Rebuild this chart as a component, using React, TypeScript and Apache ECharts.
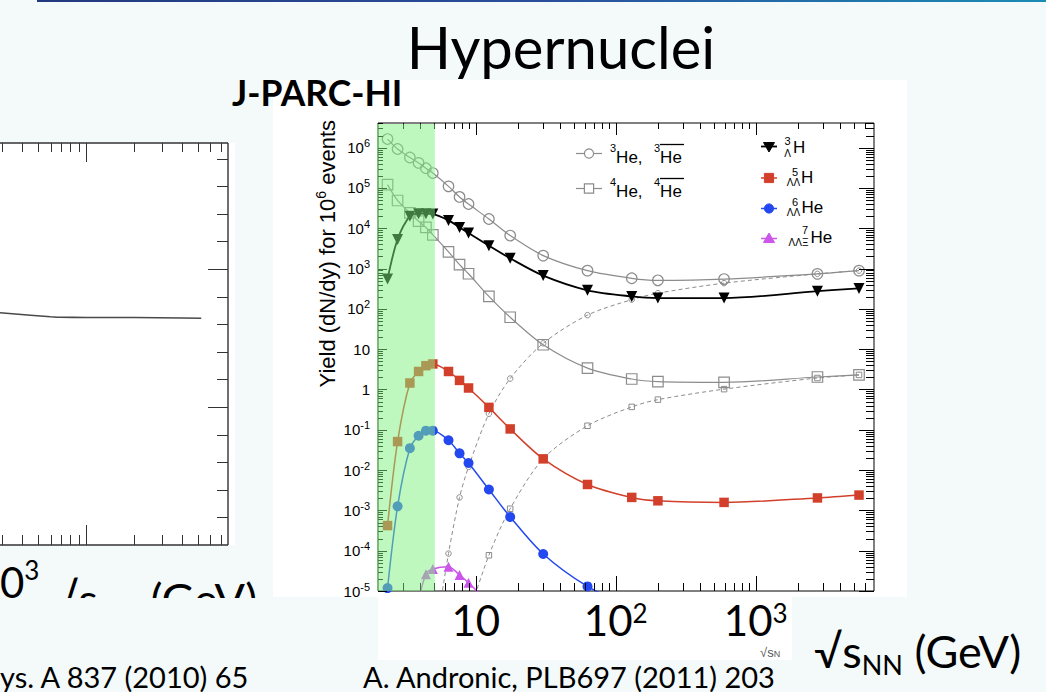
import React, { useEffect, useRef } from "react";
import * as echarts from "echarts";

// ---------- data ----------
const energies = [2.34, 2.76, 3.38, 3.9, 4.4, 4.93, 6.38, 7.65, 8.87, 12.4, 17.6, 30.3, 62.8, 130, 200, 594, 2760, 5470];
const he3 = [1.64e6, 9.3e5, 5.7e5, 4.2e5, 3.1e5, 2.35e5, 1.1e5, 6.0e4, 4.0e4, 1.7e4, 6.6e3, 2.1e3, 890, 575, 512, 550, 740, 890];
const he4 = [1.21e5, 4.9e4, 2.4e4, 1.5e4, 1.05e4, 6.9e3, 2.6e3, 1.25e3, 745, 204, 62, 12.9, 3.4, 1.82, 1.56, 1.5, 2.04, 2.3];
const antiHe3 = [null, null, null, null, null, 3e-7, 8.5e-5, 2.1e-3, 0.012, 0.25, 1.87, 14, 70, 170, 245, 435, 740, 890];
const antiHe4 = [null, null, null, null, null, null, null, null, 2.5e-6, 7.7e-5, 1.1e-3, 0.019, 0.126, 0.37, 0.56, 1.02, 1.93, 2.3];
const hypH3 = [552, 5.3e3, 2.0e4, 2.3e4, 2.3e4, 2.25e4, 1.57e4, 1.05e4, 7.6e3, 3.7e3, 1.8e3, 670, 290, 204, 186, 186, 275, 323];
const llH5 = [4.2e-4, 0.051, 1.45, 2.8, 3.9, 4.3, 2.8, 1.68, 1.09, 0.36, 0.105, 0.019, 4.4e-3, 2.1e-3, 1.73e-3, 1.58e-3, 2.04e-3, 2.4e-3];
const llHe6 = [1.18e-5, 1.26e-3, 0.035, 0.071, 0.095, 0.095, 0.055, 0.026, 0.015, 3.3e-3, 6.9e-4, 8.3e-5, 1.3e-5, 4e-6, null, null, null, null];
const llXiHe7 = [null, null, null, 5.7e-6, 2.6e-5, 3.5e-5, 4.0e-5, 2.5e-5, 1.6e-5, 5e-6, null, null, null, null, null, null, null, null];

const xRange = [2, 7000];
const yRange = [1e-5, 4.1e6];
const jparcBand = [2, 5.1];
const xTickValues = [10, 100, 1000];
const xTickLabels = ["10", "10{sup|2}", "10{sup|3}"];
const yTickValues = [1e-5, 1e-4, 1e-3, 1e-2, 1e-1, 1, 10, 1e2, 1e3, 1e4, 1e5, 1e6];

// left (cropped) figure
const leftX = [29, 45, 60, 69, 100, 200, 400, 525];
const leftY = [1.683, 1.665, 1.654, 1.65, 1.649, 1.648, 1.645, 1.643];
const leftXRange = [29, 772];
const leftYRange = [0, 2.913];

const ROOT_FONT = '"Liberation Sans", Arial, Helvetica, sans-serif';
const SLIDE_FONT = 'Lato, "Open Sans", sans-serif';
const BG = "#f4fafa";

const pairs = (xs: number[], ys: (number | null)[]) =>
  xs.map((x, i) => [x, ys[i]]).filter((p) => p[1] != null);

function expLabel(v: number) {
  const e = Math.log10(v);
  const r = Math.round(e);
  if (Math.abs(e - r) > 1e-4) return "";
  if (r === 0) return "1";
  if (r === 1) return "10";
  return "10{sup|" + r + "}";
}

function txt(x: number, y: number, text: string, o: any = {}) {
  return {
    type: "text",
    x,
    y,
    z: o.z ?? 20,
    rotation: o.rotation ?? 0,
    silent: true,
    style: {
      text,
      fontSize: o.fontSize ?? 16,
      fontFamily: o.fontFamily ?? ROOT_FONT,
      fontWeight: o.fontWeight ?? "normal",
      fill: o.fill ?? "#000",
      align: o.align ?? "left",
      verticalAlign: o.verticalAlign ?? "middle",
      lineHeight: o.lineHeight,
      rich: o.rich,
    },
  };
}

const supRoot = { sup: { fontSize: 11, lineHeight: 12, verticalAlign: "top", fontFamily: ROOT_FONT } };

function legendMarker(kind: string, cx: number, cy: number, color: string, filled: boolean, l1: number, l2: number, lw: number) {
  const els: any[] = [
    { type: "line", z: 20, silent: true, shape: { x1: l1, y1: cy, x2: l2, y2: cy }, style: { stroke: color, lineWidth: lw } },
  ];
  const style = filled ? { fill: color, stroke: color, lineWidth: 1 } : { fill: "#fff", stroke: color, lineWidth: 1.2 };
  if (kind === "circle") els.push({ type: "circle", z: 21, silent: true, shape: { cx, cy, r: 4.6 }, style });
  if (kind === "rect") els.push({ type: "rect", z: 21, silent: true, shape: { x: cx - 4.6, y: cy - 4.6, width: 9.2, height: 9.2 }, style });
  if (kind === "tdown") els.push({ type: "polygon", z: 21, silent: true, shape: { points: [[cx - 5.5, cy - 4], [cx + 5.5, cy - 4], [cx, cy + 5.5]] }, style });
  if (kind === "tup") els.push({ type: "polygon", z: 21, silent: true, shape: { points: [[cx - 5.5, cy + 4], [cx + 5.5, cy + 4], [cx, cy - 5.5]] }, style });
  return els;
}

export default function App() {
  const ref = useRef<HTMLDivElement>(null);

  useEffect(() => {
    if (!ref.current) return;
    const chart = echarts.init(ref.current, null, { renderer: "svg" });

    const lineSeries = (name: string, ys: (number | null)[], color: string, symbol: string, size: number, filled: boolean, opts: any = {}) => ({
      name,
      type: "line",
      xAxisIndex: 0,
      yAxisIndex: 0,
      data: pairs(energies, ys),
      smooth: 0.3,
      symbol,
      symbolSize: size,
      symbolRotate: opts.rotate ?? 0,
      showSymbol: true,
      showAllSymbol: true,
      clip: true,
      z: opts.z ?? 2,
      lineStyle: { color, width: opts.width ?? 1.3, type: opts.dash ? [4, 3] : "solid" },
      itemStyle: filled
        ? { color, borderColor: color, borderWidth: 0 }
        : { color: "rgba(255,255,255,0)", borderColor: color, borderWidth: opts.bw ?? 1.2 },
      emphasis: { disabled: true },
    });

    const mainTicks = {
      type: "custom",
      xAxisIndex: 0,
      yAxisIndex: 0,
      data: [[10, 1]],
      clip: false,
      silent: true,
      z: 4,
      renderItem: (params: any, api: any) => {
        const ch: any[] = [];
        const ln = (x1: number, y1: number, x2: number, y2: number) =>
          ch.push({ type: "line", shape: { x1, y1, x2, y2 }, style: { stroke: "#000", lineWidth: 1 } });
        const [xL, yB] = api.coord([xRange[0], yRange[0]]);
        const [xR, yT] = api.coord([xRange[1], yRange[1]]);
        for (let e = -6; e <= 7; e++) {
          for (let m = 1; m <= 9; m++) {
            const v = m * Math.pow(10, e);
            if (v < yRange[0] * 0.999 || v > yRange[1]) continue;
            const y = Math.round(api.coord([xRange[0], v])[1]) + 0.5;
            const major = m === 1;
            ln(xL, y, xL + (major ? 9 : 5), y);
            ln(xR, y, xR - (major ? 15 : 8), y);
          }
        }
        for (let e = 0; e <= 4; e++) {
          for (let m = 1; m <= 9; m++) {
            const v = m * Math.pow(10, e);
            if (v <= xRange[0] * 1.001 || v >= xRange[1]) continue;
            const x = Math.round(api.coord([v, yRange[0]])[0]) + 0.5;
            const major = m === 1;
            ln(x, yB, x, yB - (major ? 15 : 8));
            ln(x, yT, x, yT + (major ? 12 : 6));
          }
        }
        return { type: "group", children: ch };
      },
    };

    const bandSeries = {
      type: "custom",
      xAxisIndex: 0,
      yAxisIndex: 0,
      data: [[jparcBand[0], 1]],
      clip: false,
      silent: true,
      z: 10,
      renderItem: (params: any, api: any) => {
        const p0 = api.coord([jparcBand[0], yRange[1]]);
        const p1 = api.coord([jparcBand[1], yRange[0]]);
        return {
          type: "rect",
          shape: { x: p0[0] - 1, y: p0[1] + 1, width: p1[0] - p0[0] + 1, height: p1[1] - p0[1] - 1 },
          style: { fill: "rgba(128,242,128,0.5)" },
        };
      },
    };

    const leftFrame = {
      type: "custom",
      xAxisIndex: 1,
      yAxisIndex: 1,
      data: [[100, 1]],
      clip: false,
      silent: true,
      z: 4,
      renderItem: (params: any, api: any) => {
        const ch: any[] = [];
        const ln = (x1: number, y1: number, x2: number, y2: number, w = 1) =>
          ch.push({ type: "line", shape: { x1, y1, x2, y2 }, style: { stroke: "#333", lineWidth: w } });
        const [xL, yB] = api.coord([leftXRange[0], leftYRange[0]]);
        const [xR, yT] = api.coord([leftXRange[1], leftYRange[1]]);
        ln(xL, yT, xR, yT, 1.4);
        ln(xL, yB, xR, yB, 1.4);
        ln(xR, yT, xR, yB, 1.4);
        for (let e = 1; e <= 3; e++) {
          for (let m = 1; m <= 9; m++) {
            const v = m * Math.pow(10, e);
            if (v < leftXRange[0] || v >= leftXRange[1]) continue;
            const x = Math.round(api.coord([v, 1])[0]) + 0.5;
            const major = m === 1;
            ln(x, yT, x, yT + (major ? 19 : 9));
            ln(x, yB, x, yB - (major ? 20 : 10));
          }
        }
        for (let k = 1; k <= 14; k++) {
          const v = k * 0.2;
          const y = Math.round(api.coord([100, v])[1]) + 0.5;
          const major = k % 5 === 0;
          ln(xR, y, xR - (major ? 20 : 11), y);
        }
        return { type: "group", children: ch };
      },
    };

    const bigLabelRich = {
      sup: { fontSize: 26, lineHeight: 27, verticalAlign: "top", fontFamily: SLIDE_FONT, fill: "#000", color: "#000" },
      sub: { fontSize: 27, lineHeight: 27, verticalAlign: "bottom", fontFamily: SLIDE_FONT, fill: "#000", color: "#000" },
    };

    const graphics: any[] = [
      // slide backgrounds
      { type: "rect", z: -10, silent: true, shape: { x: 273, y: 80, width: 634, height: 517 }, style: { fill: "#fff" } },
      { type: "rect", z: -10, silent: true, shape: { x: 378, y: 597, width: 414, height: 63 }, style: { fill: "#fff" } },
      { type: "rect", z: -10, silent: true, shape: { x: 0, y: 143, width: 235, height: 402 }, style: { fill: "#fff" } },
      // top bar
      {
        type: "rect", z: 30, silent: true, shape: { x: 37, y: 0, width: 1009, height: 2 },
        style: { fill: new echarts.graphic.LinearGradient(0, 0, 1, 0, [{ offset: 0, color: "#22397f" }, { offset: 0.5, color: "#2a4e9c" }, { offset: 1, color: "#1a8cb4" }]) },
      },
      // title
      txt(561, 46, "Hypernuclei", { fontSize: 58, fontFamily: SLIDE_FONT, align: "center" }),
      txt(232, 92, "J-PARC-HI", { fontSize: 35.5, fontFamily: SLIDE_FONT, fontWeight: "bold" }),
      // y axis title
      txt(327, 120, "Yield (dN/dy) for 10{sup|6} events", {
        fontSize: 22, rotation: Math.PI / 2, align: "right", lineHeight: 26,
        rich: { sup: { fontSize: 14, lineHeight: 14, verticalAlign: "top", fontFamily: ROOT_FONT } },
      }),
      // legend left column
      ...legendMarker("circle", 589, 153.5, "#8c8c8c", false, 576, 602, 1.2),
      txt(610, 157, "{sup|3}He,", { fontSize: 17, lineHeight: 30, rich: supRoot }),
      txt(654, 157, "{sup|3}He", { fontSize: 17, lineHeight: 30, rich: supRoot }),
      { type: "line", z: 20, silent: true, shape: { x1: 660, y1: 144.5, x2: 684, y2: 144.5 }, style: { stroke: "#000", lineWidth: 1.3 } },
      ...legendMarker("rect", 589, 188.5, "#8c8c8c", false, 576, 602, 1.2),
      txt(610, 191, "{sup|4}He,", { fontSize: 17, lineHeight: 30, rich: supRoot }),
      txt(654, 191, "{sup|4}He", { fontSize: 17, lineHeight: 30, rich: supRoot }),
      { type: "line", z: 20, silent: true, shape: { x1: 660, y1: 178.5, x2: 684, y2: 178.5 }, style: { stroke: "#000", lineWidth: 1.3 } },
      // legend right column
      ...legendMarker("tdown", 769, 146.5, "#000", true, 761, 777, 1.8),
      txt(787.5, 140.5, "3", { fontSize: 11, align: "center" }),
      txt(787.5, 153.5, "Λ", { fontSize: 10, align: "center" }),
      txt(793, 147, "H", { fontSize: 17 }),
      ...legendMarker("rect", 769, 178, "#d2402b", true, 761, 777, 1.5),
      txt(795, 171.5, "5", { fontSize: 11, align: "center" }),
      txt(793.5, 182, "ΛΛ", { fontSize: 10, align: "center" }),
      txt(801, 177, "H", { fontSize: 17 }),
      ...legendMarker("circle", 769, 208.5, "#2448f0", true, 761, 777, 1.5),
      txt(795, 201.5, "6", { fontSize: 11, align: "center" }),
      txt(793.5, 212, "ΛΛ", { fontSize: 10, align: "center" }),
      txt(801.5, 207.5, "He", { fontSize: 17 }),
      ...legendMarker("tup", 769, 238.5, "#cc55ea", true, 761, 777, 1.5),
      txt(805, 230, "7", { fontSize: 11, align: "center" }),
      txt(798.5, 242, "ΛΛΞ", { fontSize: 10, align: "center" }),
      txt(810.5, 237.5, "He", { fontSize: 17 }),
      // original axis-title fragment, covered on the right by the slide text box
      txt(760, 652, "√s{sub|N}", {
        fontSize: 13, fill: "#555", z: 5,
        rich: { sub: { fontSize: 9, lineHeight: 9, verticalAlign: "bottom", fontFamily: ROOT_FONT, fill: "#555" } },
        lineHeight: 12,
      }),
      { type: "rect", z: 6, silent: true, shape: { x: 792, y: 597, width: 254, height: 95 }, style: { fill: BG } },
      // slide x title right
      txt(814, 651, "√s{sub|NN} (GeV)", { fontSize: 45, fontFamily: SLIDE_FONT, lineHeight: 54, rich: bigLabelRich, z: 30 }),
      // left cropped figure: slide texts clipped at the bottom
      txt(0, 582, "0{sup|3}", { fontSize: 42, fontFamily: SLIDE_FONT, align: "left", lineHeight: 50, rich: bigLabelRich, z: 28 }),
      txt(50, 599, "√s{sub|NN} (GeV)", { fontSize: 45, fontFamily: SLIDE_FONT, lineHeight: 54, rich: bigLabelRich, z: 28 }),
      { type: "rect", z: 29, silent: true, shape: { x: 0, y: 598, width: 273, height: 64 }, style: { fill: BG } },
      // citations
      txt(0, 676, "ys. A 837 (2010) 65", { fontSize: 29, fontFamily: SLIDE_FONT, align: "left", z: 31 }),
      txt(363, 676, "A. Andronic, PLB697 (2011) 203", { fontSize: 29, fontFamily: SLIDE_FONT, z: 31 }),
    ];

    const option: any = {
      animation: false,
      backgroundColor: BG,
      grid: [
        { left: 378, top: 123, width: 496, height: 468, show: true, borderColor: "#000", borderWidth: 1, backgroundColor: "rgba(0,0,0,0)", outerBoundsMode: "none" },
        { left: 0, top: 143, width: 228, height: 402, show: false, outerBoundsMode: "none" },
      ],
      xAxis: [
        {
          gridIndex: 0, type: "log", logBase: 10, min: xRange[0], max: xRange[1],
          axisLine: { show: false }, axisTick: { show: false }, splitLine: { show: false }, minorTick: { show: false },
          axisLabel: {
            show: true, margin: 9, fontSize: 42, lineHeight: 40, fontFamily: SLIDE_FONT, color: "#000",
            customValues: xTickValues,
            formatter: (v: number) => {
              const e = Math.log10(v), r = Math.round(e);
              if (Math.abs(e - r) > 1e-4 || r < 1 || r > 3) return "";
              return xTickLabels[r - 1];
            },
            rich: bigLabelRich,
          },
        },
        { gridIndex: 1, type: "log", logBase: 10, min: leftXRange[0], max: leftXRange[1], show: false },
      ],
      yAxis: [
        {
          gridIndex: 0, type: "log", logBase: 10, min: yRange[0], max: yRange[1],
          axisLine: { show: false }, axisTick: { show: false }, splitLine: { show: false }, minorTick: { show: false },
          axisLabel: {
            show: true, margin: 8, fontSize: 15, lineHeight: 20, fontFamily: ROOT_FONT, color: "#000",
            customValues: yTickValues,
            formatter: expLabel,
            rich: { sup: { fontSize: 11, lineHeight: 11, verticalAlign: "top", fontFamily: ROOT_FONT, color: "#000" } },
          },
        },
        { gridIndex: 1, type: "value", min: leftYRange[0], max: leftYRange[1], show: false },
      ],
      series: [
        lineSeries("3He", he3, "#8c8c8c", "circle", 10.5, false, { width: 1.2 }),
        lineSeries("4He", he4, "#8c8c8c", "rect", 10.5, false, { width: 1.2 }),
        lineSeries("anti3He", antiHe3, "#8c8c8c", "circle", 5.5, false, { width: 1, dash: true, bw: 1 }),
        lineSeries("anti4He", antiHe4, "#8c8c8c", "rect", 5.5, false, { width: 1, dash: true, bw: 1 }),
        lineSeries("LH3", hypH3, "#000000", "triangle", 11, true, { width: 1.8, rotate: 180, z: 3 }),
        lineSeries("LLH5", llH5, "#d2402b", "rect", 9.5, true, { width: 1.5, z: 3 }),
        lineSeries("LLHe6", llHe6, "#2448f0", "circle", 10, true, { width: 1.5, z: 3 }),
        lineSeries("LLXiHe7", llXiHe7, "#cc55ea", "triangle", 10, true, { width: 1.5, z: 3 }),
        mainTicks,
        bandSeries,
        {
          name: "left",
          type: "line",
          xAxisIndex: 1,
          yAxisIndex: 1,
          data: pairs(leftX, leftY),
          smooth: true,
          showSymbol: false,
          lineStyle: { color: "#4a4a4a", width: 1.6 },
          emphasis: { disabled: true },
        },
        leftFrame,
      ],
      graphic: { elements: graphics },
    };

    chart.setOption(option);
    return () => chart.dispose();
  }, []);

  return <div ref={ref} style={{ position: "fixed", left: 0, top: 0, width: 1046, height: 692 }} />;
}
